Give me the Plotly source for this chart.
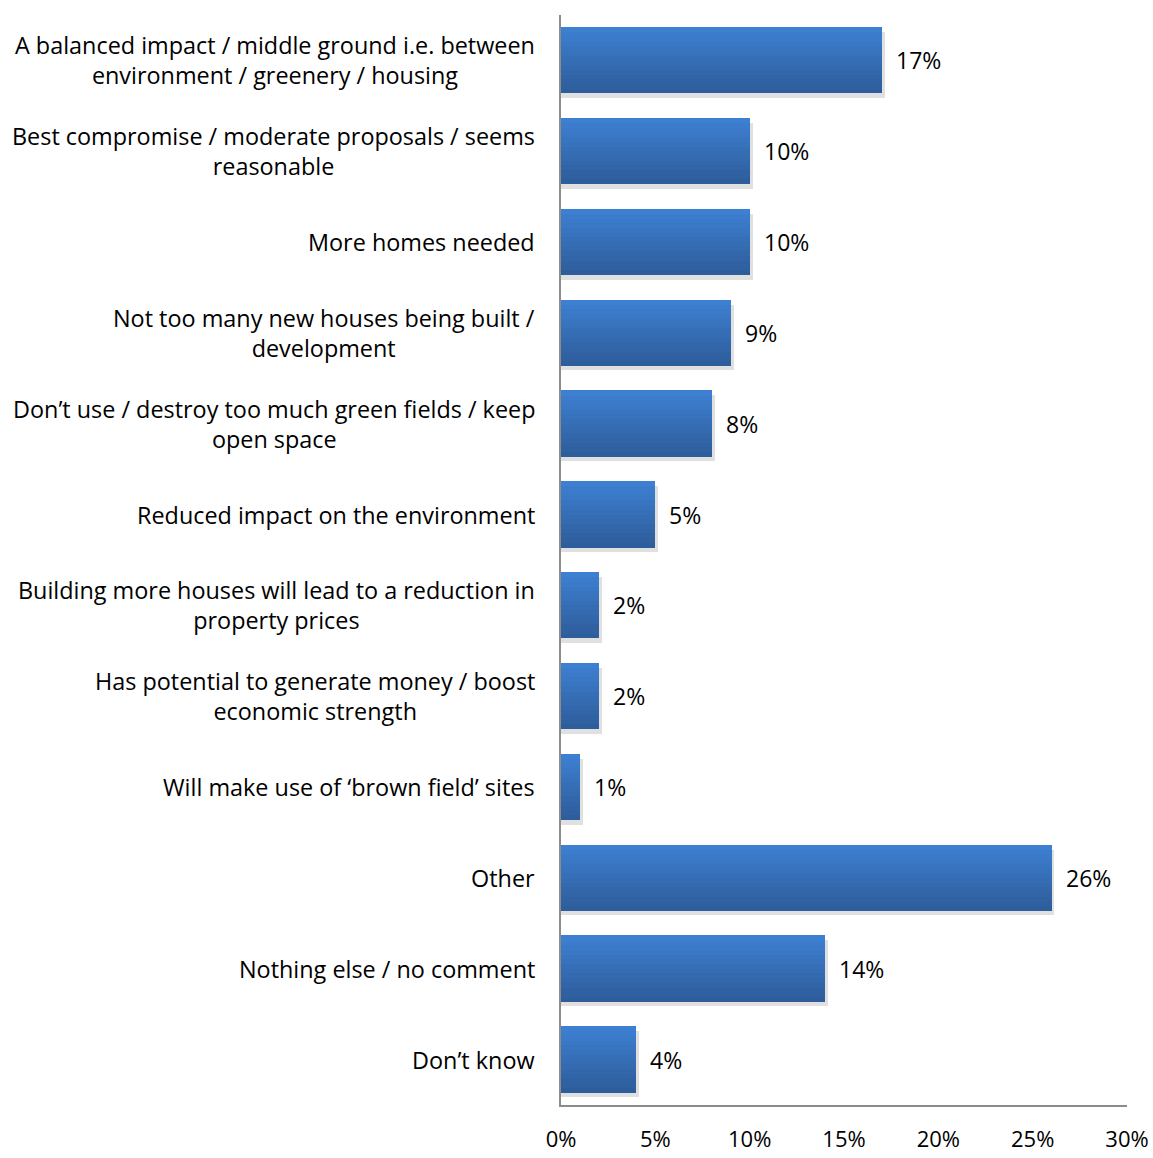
import plotly.graph_objects as go

# Survey responses (top to bottom as listed)
categories = [
    "A balanced impact / middle ground i.e. between<br>environment / greenery / housing",
    "Best compromise / moderate proposals / seems<br>reasonable",
    "More homes needed",
    "Not too many new houses being built /<br>development",
    "Don\u2019t use / destroy too much green fields / keep<br>open space",
    "Reduced impact on the environment",
    "Building more houses will lead to a reduction in<br>property prices",
    "Has potential to generate money / boost<br>economic strength",
    "Will make use of \u2018brown field\u2019 sites",
    "Other",
    "Nothing else / no comment",
    "Don\u2019t know",
]
values = [17, 10, 10, 9, 8, 5, 2, 2, 1, 26, 14, 4]
tick_values = [0, 5, 10, 15, 20, 25, 30]
tick_labels = ["0%", "5%", "10%", "15%", "20%", "25%", "30%"]

FONT = "Open Sans"
FS = 23
LABEL_FS = 23.4
BAR_W = 0.725

fig = go.Figure()

# soft drop shadow just below each bar
fig.add_trace(go.Bar(
    y=categories, x=[v + 0.15 for v in values], orientation="h",
    width=BAR_W, offset=-BAR_W / 2 - 0.05,
    marker=dict(color="rgba(0,0,0,0.12)", line=dict(width=0)),
    hoverinfo="skip", showlegend=False,
))

# vertical gradient built from stacked bands (dark bottom -> light top)
top = (61, 127, 208)
bot = (46, 93, 155)
n_bands = 14
band = BAR_W / n_bands
for i in range(n_bands):
    t = i / (n_bands - 1)
    c = tuple(round(bot[k] + (top[k] - bot[k]) * t) for k in range(3))
    fig.add_trace(go.Bar(
        y=categories, x=values, orientation="h",
        width=band + 0.004, offset=-BAR_W / 2 + i * band,
        marker=dict(color="rgb(%d,%d,%d)" % c, line=dict(width=0)),
        hoverinfo="skip", showlegend=False,
    ))

# value labels to the right of each bar
for cat, v in zip(categories, values):
    fig.add_annotation(
        x=v, y=cat, xref="x", yref="y", text=f"{v}%",
        showarrow=False, xanchor="left", xshift=12,
        font=dict(family=FONT, size=FS, color="black"),
    )

# category labels, centred lines, right-aligned to the axis
for cat in categories:
    fig.add_annotation(
        x=0, y=cat, xref="paper", yref="y", text=cat,
        showarrow=False, xanchor="right", xshift=-24, align="center",
        font=dict(family=FONT, size=LABEL_FS, color="black"),
    )

fig.update_layout(
    barmode="overlay",
    width=1153, height=1158,
    margin=dict(l=561, r=26, t=15, b=53, autoexpand=False),
    paper_bgcolor="white", plot_bgcolor="white",
    font=dict(family=FONT, size=FS, color="black"),
    showlegend=False,
    bargap=0,
)
fig.update_xaxes(
    range=[0, 30], tickvals=tick_values, ticktext=tick_labels,
    showgrid=False, zeroline=False, automargin=False,
    showline=True, linecolor="#8c8c8c", linewidth=2,
    ticks="outside", ticklen=0, ticklabelstandoff=14,
    tickfont=dict(family=FONT, size=22, color="black"),
)
fig.update_yaxes(
    categoryorder="array", categoryarray=categories[::-1],
    range=[-0.5, 11.5], automargin=False,
    showticklabels=False, showgrid=False, zeroline=False,
    showline=True, linecolor="#8c8c8c", linewidth=2, ticks="",
)

fig.write_html("out.html")
